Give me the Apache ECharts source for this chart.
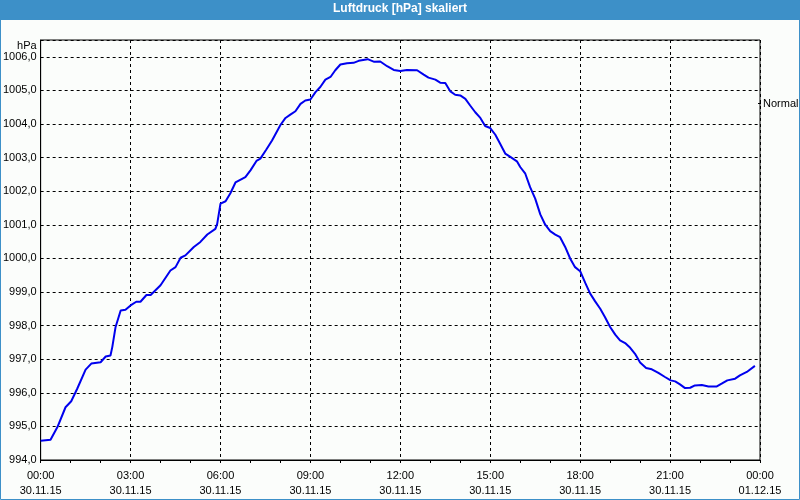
<!DOCTYPE html>
<html>
<head>
<meta charset="utf-8">
<script src="https://cdn.jsdelivr.net/npm/echarts@6/dist/echarts.min.js"></script>
<style>
  html, body { margin: 0; padding: 0; background: #fbfdfb; }
  #chart { width: 800px; height: 500px; }
</style>
</head>
<body>
<div id="chart"></div>
<script>
const titleText = "Luftdruck [hPa] skaliert";
const seriesName = "Normal";
const tickHours = [0, 3, 6, 9, 12, 15, 18, 21, 24];
const tickTimes = ["00:00", "03:00", "06:00", "09:00", "12:00", "15:00", "18:00", "21:00", "00:00"];
const tickDates = ["30.11.15", "30.11.15", "30.11.15", "30.11.15", "30.11.15", "30.11.15", "30.11.15", "30.11.15", "01.12.15"];

// hours since 30.11.15 00:00
const hours = [
  0, 0.33, 0.56, 0.83, 1.02, 1.22, 1.5, 1.69, 2.0, 2.17,
  2.33, 2.39, 2.5, 2.67, 2.83, 3.0, 3.19, 3.33, 3.53, 3.67,
  4.0, 4.33, 4.5, 4.67, 4.83, 5.11, 5.33, 5.56, 5.83, 5.89,
  6.0, 6.17, 6.33, 6.5, 6.83, 7.0, 7.2, 7.33, 7.53, 7.72,
  8.0, 8.17, 8.33, 8.5, 8.67, 8.83, 9.0, 9.17, 9.33, 9.5,
  9.67, 9.83, 10.0, 10.22, 10.44, 10.61, 10.91, 11.13, 11.33, 11.56,
  11.78, 12.0, 12.22, 12.56, 12.78, 12.94, 13.17, 13.33, 13.5, 13.67,
  13.83, 14.0, 14.17, 14.33, 14.5, 14.67, 14.83, 15.0, 15.17, 15.33,
  15.5, 15.67, 15.89, 16.0, 16.17, 16.33, 16.5, 16.67, 16.83, 17.0,
  17.17, 17.33, 17.5, 17.67, 17.83, 18.0, 18.17, 18.33, 18.5, 18.67,
  18.83, 19.0, 19.17, 19.33, 19.5, 19.67, 19.83, 20.0, 20.2, 20.39,
  20.61, 20.83, 21.02, 21.17, 21.33, 21.5, 21.67, 21.83, 22.06, 22.28,
  22.56, 22.72, 22.91, 23.17, 23.33, 23.56, 23.83
];

// hPa
const pressure = [
  994.57, 994.6, 994.98, 995.57, 995.75, 996.12, 996.69, 996.87, 996.91, 997.08,
  997.11, 997.36, 997.96, 998.45, 998.47, 998.6, 998.71, 998.71, 998.91, 998.91,
  999.2, 999.64, 999.74, 1000.02, 1000.09, 1000.34, 1000.49, 1000.71, 1000.88, 1001.03,
  1001.63, 1001.7, 1001.94, 1002.26, 1002.42, 1002.62, 1002.9, 1002.97, 1003.24, 1003.51,
  1003.97, 1004.18, 1004.28, 1004.38, 1004.6, 1004.7, 1004.73, 1004.95, 1005.1, 1005.32,
  1005.4, 1005.6, 1005.77, 1005.81, 1005.82, 1005.88, 1005.93, 1005.85, 1005.86, 1005.72,
  1005.61, 1005.58, 1005.61, 1005.6, 1005.47, 1005.38, 1005.32, 1005.23, 1005.22, 1004.97,
  1004.87, 1004.85, 1004.75, 1004.55, 1004.35, 1004.18, 1003.94, 1003.88, 1003.68, 1003.41,
  1003.12, 1003.02, 1002.89, 1002.72, 1002.52, 1002.12, 1001.78, 1001.31, 1001.01, 1000.81,
  1000.71, 1000.63, 1000.34, 999.99, 999.74, 999.62, 999.27, 998.96, 998.72, 998.5,
  998.25, 997.96, 997.73, 997.56, 997.48, 997.34, 997.16, 996.9, 996.74, 996.7,
  996.59, 996.47, 996.37, 996.34, 996.25, 996.14, 996.15, 996.22, 996.23, 996.19,
  996.19, 996.27, 996.37, 996.42, 996.52, 996.62, 996.8
];

const font = "'Liberation Sans', Arial, sans-serif";
const barBlue = "#3d90c8";

const chart = echarts.init(document.getElementById("chart"), null, { renderer: "canvas" });

chart.setOption({
  backgroundColor: "#fbfdfb",
  animation: false,
  textStyle: { fontFamily: font },
  graphic: [
    { type: "rect", z: 0, shape: { x: 0, y: 0, width: 800, height: 20 }, style: { fill: barBlue } },
    { type: "rect", z: 0, shape: { x: 0.5, y: 0.5, width: 799, height: 499 }, style: { fill: null, stroke: barBlue, lineWidth: 1 } },
  ],
  title: {
    text: titleText,
    left: "center",
    top: 3,
    padding: 0,
    textStyle: { color: "#fff", fontSize: 12, fontWeight: "bold", fontFamily: font },
  },
  legend: {
    data: [seriesName],
    left: 758,
    top: 98,
    padding: 0,
    icon: "rect",
    itemWidth: 3,
    itemHeight: 1,
    itemStyle: { color: "#000" },
    textStyle: { color: "#000", fontSize: 11, fontFamily: font, padding: [0, 0, 0, -3] },
    selectedMode: false,
  },
  grid: {
    left: 40, right: 40, top: 40, bottom: 40,
    show: true, borderColor: "#000", borderWidth: 1, backgroundColor: "#fbfdfb",
  },
  xAxis: {
    type: "value",
    min: 0,
    max: 24,
    interval: 3,
    axisLine: { lineStyle: { color: "#000", width: 1 } },
    axisTick: { show: true, length: 3, lineStyle: { color: "#000" } },
    minorTick: { show: true, splitNumber: 3, length: 3, lineStyle: { color: "#000" } },
    splitLine: { show: true, lineStyle: { color: "#000", type: [3, 3], width: 1 } },
    axisLabel: {
      color: "#000",
      fontSize: 11,
      fontFamily: font,
      lineHeight: 15,
      margin: 8,
      formatter: (value) => {
        const i = tickHours.indexOf(value);
        return i < 0 ? "" : tickTimes[i] + "\n" + tickDates[i];
      },
    },
  },
  yAxis: {
    type: "value",
    min: 994,
    max: 1006.5,
    interval: 1,
    name: "hPa",
    nameLocation: "end",
    nameGap: -12,
    nameTextStyle: { color: "#000", fontSize: 11, fontFamily: font, align: "right", padding: [0, 4, 0, 0] },
    axisLine: { show: true, lineStyle: { color: "#000" } },
    axisTick: { show: false },
    splitLine: { show: true, lineStyle: { color: "#000", type: [3, 3], width: 1 } },
    axisLabel: {
      color: "#000",
      fontSize: 11,
      fontFamily: font,
      margin: 4,
      showMaxLabel: false,
      formatter: (value) => Number.isInteger(value) ? value.toFixed(1).replace(".", ",") : "",
    },
  },
  series: [
    {
      name: seriesName,
      type: "line",
      data: hours.map((h, i) => [h, pressure[i]]),
      showSymbol: false,
      symbol: "none",
      lineStyle: { color: "#0000ee", width: 2 },
      itemStyle: { color: "#0000ee" },
    },
  ],
});
</script>
</body>
</html>
